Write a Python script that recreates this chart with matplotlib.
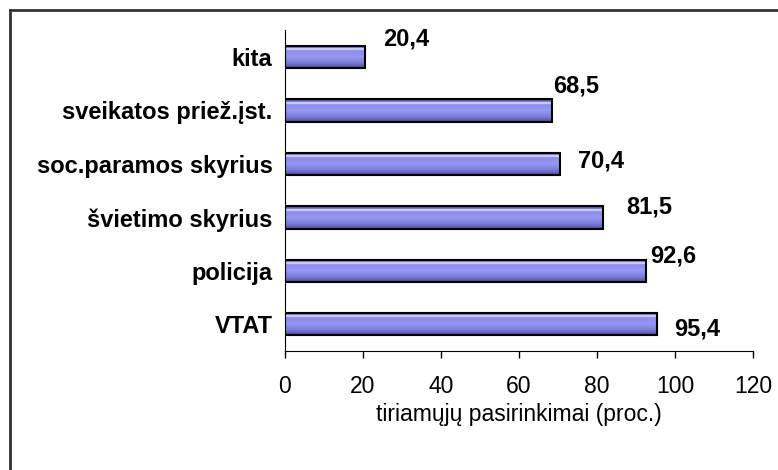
import numpy as np
import matplotlib.pyplot as plt
from matplotlib.colors import LinearSegmentedColormap
from matplotlib.lines import Line2D

# duomenys
kategorijos = ["VTAT", "policija", "švietimo skyrius", "soc.paramos skyrius",
               "sveikatos priež.įst.", "kita"]
reiksmes = [95.4, 92.6, 81.5, 70.4, 68.5, 20.4]
etiketes = ["95,4", "92,6", "81,5", "70,4", "68,5", "20,4"]
# etikečių poslinkiai (pikseliais nuo stulpelio galo)
poslinkiai = [(40, -5), (27, 15), (46, 10), (41, 3), (24, 24), (42, 18)]
x_ticks = [0, 20, 40, 60, 80, 100, 120]

plt.rcParams['font.family'] = ['Liberation Sans', 'DejaVu Sans']

fig = plt.figure(figsize=(7.78, 4.70), dpi=100)
ax = fig.add_axes([0.3663, 0.2532, 0.6017, 0.6828])

# rėmelis aplink paveikslą (matomas tik viršus ir kairė)
fig.add_artist(Line2D([10/778, 1.0], [1 - 10/470, 1 - 10/470], color="#333333", lw=2,
                      transform=fig.transFigure))
fig.add_artist(Line2D([10/778, 10/778], [0.0, 1 - 10/470], color="#333333", lw=2,
                      transform=fig.transFigure))

cmap = LinearSegmentedColormap.from_list("juosta", [
    (0.0, "#4a4a90"), (0.10, "#6c6cc8"), (0.16, "#eeeeff"), (0.24, "#8c8cec"),
    (0.5, "#9797f5"), (0.78, "#7b7bd8"), (1.0, "#4c4c94")])
grad = np.linspace(0, 1, 100).reshape(-1, 1)

h = 0.42
y = np.arange(len(kategorijos))
bars = ax.barh(y, reiksmes, height=h, facecolor="none", edgecolor="black",
               linewidth=1.5, zorder=3)
for i, (b, v) in enumerate(zip(bars, reiksmes)):
    im = ax.imshow(grad, extent=[0, v, i - h/2, i + h/2], aspect="auto",
                   cmap=cmap, origin="upper", zorder=2)
    im.set_clip_path(b)

for i, (v, t, (dx, dy)) in enumerate(zip(reiksmes, etiketes, poslinkiai)):
    ax.annotate(t, xy=(v, i), xytext=(dx, dy), textcoords="offset pixels",
                ha="center", va="center", fontsize=17, fontweight="bold")

ax.set_xlim(0, 120)
ax.set_ylim(-0.5, len(kategorijos) - 0.5)
ax.set_xticks(x_ticks)
ax.set_xticklabels([str(t) for t in x_ticks], fontsize=16.5)
ax.set_yticks(y)
ax.set_yticklabels(kategorijos, fontsize=17, fontweight="bold")
ax.tick_params(axis="y", length=0, pad=9)
ax.tick_params(axis="x", length=5, width=1, pad=12)
ax.spines["top"].set_visible(False)
ax.spines["right"].set_visible(False)
ax.set_xlabel("tiriamųjų pasirinkimai (proc.)", fontsize=16.5, labelpad=4)

fig.savefig("out.png", dpi=100)
